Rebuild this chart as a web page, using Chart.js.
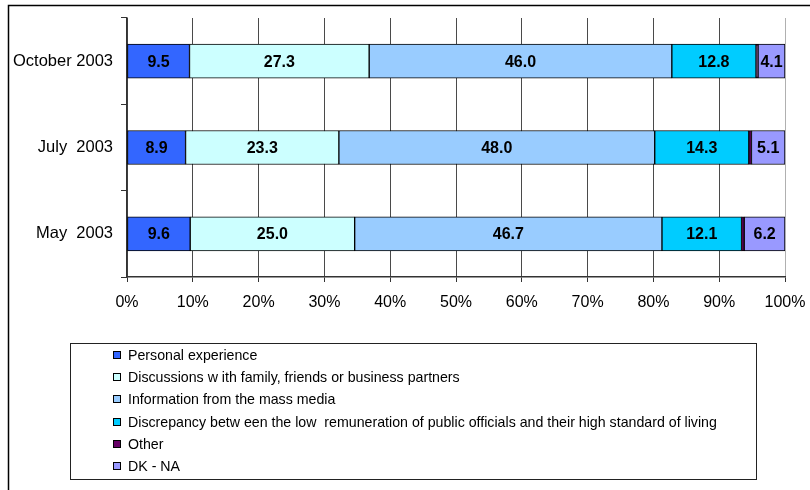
<!DOCTYPE html>
<html>
<head>
<meta charset="utf-8">
<script src="https://cdn.jsdelivr.net/npm/chart.js@4.4.1/dist/chart.umd.min.js"></script>
<style>
  html, body { margin: 0; padding: 0; background: #fff; }
  #wrap { width: 810px; height: 490px; position: relative; }
</style>
</head>
<body>
<div id="wrap"><canvas id="chart" width="810" height="490"></canvas></div>
<script>
// survey waves, top to bottom
const waves = ['October 2003', 'July  2003', 'May  2003'];

const sourceLabels = [
  'Personal experience',
  'Discussions w ith family, friends or business partners',
  'Information from the mass media',
  'Discrepancy betw een the low  remuneration of public officials and their high standard of living',
  'Other',
  'DK - NA'
];
const sourceColors = ['#3366ff', '#ccffff', '#99ccff', '#00ccff', '#660066', '#9999ff'];

// shares in %, one array per source, order matches waves
const personal = [9.5, 8.9, 9.6];
const discussions = [27.3, 23.3, 25.0];
const massMedia = [46.0, 48.0, 46.7];
const discrepancy = [12.8, 14.3, 12.1];
const other = [0.3, 0.4, 0.4];
const dkNa = [4.1, 5.1, 6.2];

const xTicks = [0, 10, 20, 30, 40, 50, 60, 70, 80, 90, 100];

const seriesValues = [personal, discussions, massMedia, discrepancy, other, dkNa];
const showValue = [true, true, true, true, false, true];

Chart.defaults.font.family = '"Liberation Sans", Arial, sans-serif';
Chart.defaults.color = '#000';

// value labels inside each segment
const valueLabels = {
  id: 'valueLabels',
  afterDatasetsDraw(chart) {
    const ctx = chart.ctx;
    ctx.save();
    ctx.font = 'bold 16px "Liberation Sans", Arial, sans-serif';
    ctx.fillStyle = '#000';
    ctx.textAlign = 'center';
    ctx.textBaseline = 'middle';
    chart.data.datasets.forEach((ds, i) => {
      if (!showValue[i]) return;
      chart.getDatasetMeta(i).data.forEach((bar, j) => {
        const cx = (bar.x + bar.base) / 2;
        ctx.fillText(ds.data[j].toFixed(1), cx, bar.y + 1);
      });
    });
    ctx.restore();
  }
};

// boxed legend under the plot plus the outer frame
const boxLegend = {
  id: 'boxLegend',
  afterDraw(chart) {
    const ctx = chart.ctx;
    ctx.save();
    ctx.strokeStyle = '#000';
    ctx.lineWidth = 1.5;
    ctx.beginPath();
    ctx.moveTo(8.5, 490);
    ctx.lineTo(8.5, 5.5);
    ctx.lineTo(810, 5.5);
    ctx.stroke();

    ctx.lineWidth = 1;
    ctx.strokeStyle = '#222';
    ctx.strokeRect(70.5, 343.5, 686, 136);

    ctx.font = '14.2px "Liberation Sans", Arial, sans-serif';
    ctx.textAlign = 'left';
    ctx.textBaseline = 'middle';
    sourceLabels.forEach((lab, i) => {
      const y = 355 + i * 22.2;
      ctx.fillStyle = sourceColors[i];
      ctx.fillRect(113, Math.round(y) - 4, 8, 8);
      ctx.strokeStyle = '#000';
      ctx.strokeRect(113.5, Math.round(y) - 3.5, 7, 7);
      ctx.fillStyle = '#000';
      ctx.fillText(lab, 128, y + 1);
    });
    ctx.restore();
  }
};

new Chart(document.getElementById('chart'), {
  type: 'bar',
  data: {
    labels: waves,
    datasets: seriesValues.map((vals, i) => ({
      label: sourceLabels[i],
      data: vals,
      backgroundColor: sourceColors[i],
      borderColor: '#000',
      borderWidth: 1,
      borderSkipped: false,
      barThickness: 34
    }))
  },
  options: {
    indexAxis: 'y',
    responsive: false,
    animation: false,
    layout: { padding: { left: 0, right: 25, top: 18, bottom: 173 } },
    plugins: {
      legend: { display: false },
      tooltip: { enabled: false }
    },
    scales: {
      x: {
        stacked: true,
        min: 0,
        max: 100,
        afterBuildTicks: (scale) => { scale.ticks = xTicks.map(v => ({ value: v })); },
        afterFit: (scale) => {
          scale.height = 40;
          scale.paddingLeft = 0;
          scale.paddingRight = 0;
        },
        ticks: {
          font: { size: 16 },
          color: '#000',
          padding: 11,
          callback: (v) => v + '%'
        },
        grid: {
          color: (c) => c.tick && c.tick.value === 100 ? '#b0b0b0' : '#4a4a4a',
          tickColor: '#333',
          tickLength: 5,
          lineWidth: 1
        },
        border: { color: '#333', width: 1.5 }
      },
      y: {
        stacked: true,
        afterFit: (scale) => { scale.width = 127; },
        ticks: {
          font: { size: 16.5 },
          color: '#000',
          padding: 8
        },
        grid: {
          offset: true,
          drawOnChartArea: false,
          tickColor: '#333',
          tickLength: 6
        },
        border: { color: '#333', width: 1.5 }
      }
    }
  },
  plugins: [valueLabels, boxLegend]
});
</script>
</body>
</html>
